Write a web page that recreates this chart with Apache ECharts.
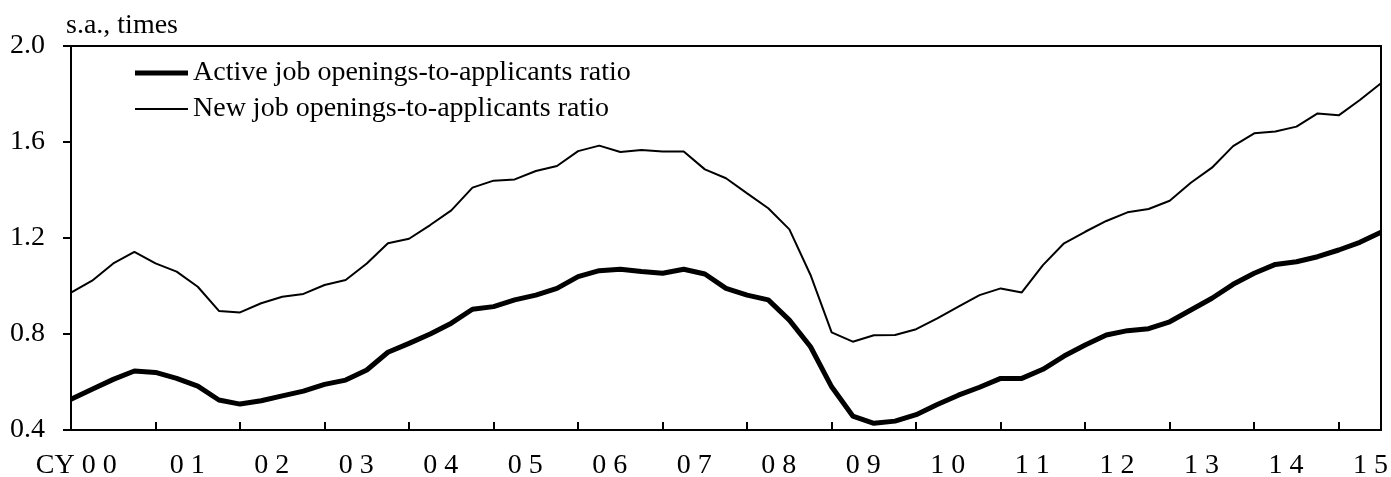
<!DOCTYPE html>
<html>
<head>
<meta charset="utf-8">
<script src="https://cdn.jsdelivr.net/npm/echarts@6/dist/echarts.min.js"></script>
<style>
html,body{margin:0;padding:0;background:#fff;}
#chart{width:1391px;height:477px;}
</style>
</head>
<body>
<div id="chart"></div>
<script>
// Year labels (as drawn, spaced digits)
const yearLabels = ['CY 0 0','0 1','0 2','0 3','0 4','0 5','0 6','0 7','0 8','0 9','1 0','1 1','1 2','1 3','1 4','1 5'];
const yearCodes = ['00','01','02','03','04','05','06','07','08','09','10','11','12','13','14','15'];
// Quarterly categories 2000Q1 .. 2015Q3
const quarters = yearCodes.flatMap(y => ['Q1','Q2','Q3','Q4'].map(q => y + q)).slice(0, 63);

const seriesNames = ['Active job openings-to-applicants ratio', 'New job openings-to-applicants ratio'];

const activeRatio = [
  0.528, 0.570, 0.611, 0.646, 0.640, 0.615, 0.583, 0.525,
  0.508, 0.522, 0.542, 0.562, 0.590, 0.608, 0.650, 0.724,
  0.761, 0.800, 0.845, 0.903, 0.914, 0.942, 0.962, 0.990,
  1.039, 1.064, 1.070, 1.060, 1.053, 1.070, 1.050, 0.990,
  0.962, 0.942, 0.858, 0.747, 0.580, 0.458, 0.428, 0.437,
  0.464, 0.506, 0.545, 0.578, 0.615, 0.615, 0.653, 0.708,
  0.754, 0.796, 0.814, 0.822, 0.851, 0.900, 0.949, 1.007,
  1.053, 1.090, 1.101, 1.122, 1.150, 1.182, 1.224
];
const newRatio = [
  0.972, 1.022, 1.094, 1.142, 1.094, 1.060, 0.997, 0.896,
  0.890, 0.928, 0.955, 0.967, 1.004, 1.025, 1.094, 1.178,
  1.197, 1.254, 1.315, 1.410, 1.439, 1.444, 1.479, 1.500,
  1.562, 1.585, 1.558, 1.567, 1.560, 1.560, 1.486, 1.449,
  1.386, 1.324, 1.236, 1.046, 0.807, 0.768, 0.795, 0.796,
  0.820, 0.865, 0.914, 0.962, 0.990, 0.973, 1.087, 1.178,
  1.226, 1.271, 1.307, 1.321, 1.355, 1.430, 1.493, 1.583,
  1.636, 1.644, 1.664, 1.719, 1.711, 1.775, 1.845
];

const FONT = 'Liberation Serif';
const chart = echarts.init(document.getElementById('chart'), null, {renderer: 'canvas'});

// label position (in quarter index units) for each year label
function labelPos(k) { return k === 0 ? 0.25 : 4 * k + 1.5; }

const legendText = {fontFamily: FONT, fontSize: 28, lineHeight: 28, color: '#000'};

chart.setOption({
  animation: false,
  backgroundColor: '#fff',
  grid: {left: 71, right: 10, top: 46, bottom: 47, show: true, borderColor: '#000', borderWidth: 2,
         backgroundColor: 'transparent', containLabel: false, outerBoundsMode: 'none'},
  graphic: [{
    type: 'text', left: 66, top: 12,
    style: {text: 's.a., times', fontFamily: FONT, fontSize: 28, fill: '#000'}
  }],
  legend: [{
    orient: 'vertical', left: 135, top: 59, padding: 0,
    icon: 'rect', itemWidth: 53, itemHeight: 5,
    textStyle: legendText,
    data: [{name: seriesNames[0], itemStyle: {color: '#000'}}]
  }, {
    orient: 'vertical', left: 135, top: 95, padding: 0,
    icon: 'rect', itemWidth: 53, itemHeight: 2,
    textStyle: legendText,
    data: [{name: seriesNames[1], itemStyle: {color: '#000'}}]
  }],
  xAxis: [{
    type: 'category', data: quarters, boundaryGap: false,
    axisLine: {lineStyle: {color: '#000', width: 2}},
    axisTick: {inside: true, length: 8, lineStyle: {color: '#000', width: 2}, interval: (i) => i % 4 === 0},
    axisLabel: {show: false},
    splitLine: {show: false}
  }, {
    type: 'value', min: 0, max: quarters.length - 1, interval: 0.25, position: 'bottom',
    axisLine: {show: false}, axisTick: {show: false}, splitLine: {show: false},
    axisLabel: {
      margin: 22, fontFamily: FONT, fontSize: 28, color: '#000',
      formatter: (v) => {
        for (let k = 0; k < yearLabels.length; k++) {
          if (Math.abs(v - labelPos(k)) < 1e-6) return yearLabels[k];
        }
        return '';
      }
    }
  }],
  yAxis: {
    type: 'value', min: 0.4, max: 2.0, interval: 0.4,
    axisLine: {show: true, lineStyle: {color: '#000', width: 2}},
    axisTick: {show: true, inside: false, length: 8, lineStyle: {color: '#000', width: 2}},
    axisLabel: {margin: 26, fontFamily: FONT, fontSize: 28, color: '#000', formatter: (v) => v.toFixed(1)},
    splitLine: {show: false}
  },
  series: [{
    name: seriesNames[0], type: 'line', data: activeRatio, xAxisIndex: 0,
    symbol: 'none', lineStyle: {color: '#000', width: 5}, itemStyle: {color: '#000'}
  }, {
    name: seriesNames[1], type: 'line', data: newRatio, xAxisIndex: 0,
    symbol: 'none', lineStyle: {color: '#000', width: 2}, itemStyle: {color: '#000'}
  }]
});
</script>
</body>
</html>
